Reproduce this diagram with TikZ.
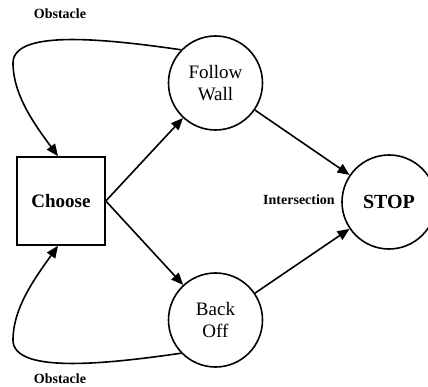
\documentclass[tikz,border=0pt]{standalone}
\usepackage{fontspec}
\setmainfont{Liberation Serif}
\usetikzlibrary{arrows.meta}
\begin{document}
\begin{tikzpicture}[x=1pt,y=-1pt,
  state/.style={circle,draw,line width=1.6pt,minimum size=94pt,inner sep=0pt,
    font=\fontsize{19}{22.7}\selectfont,align=center},
  chooser/.style={rectangle,draw,line width=1.6pt,minimum size=88pt,inner sep=0pt,
    font=\fontsize{19}{23}\selectfont\bfseries},
  lbl/.style={font=\fontsize{14}{16}\selectfont\bfseries,inner sep=0pt},
  edge/.style={line width=1.6pt,-{Triangle[length=12pt,width=10pt]}}]
  \useasboundingbox (0,0) rectangle (428,387);
  \clip (0,0) rectangle (428,387);
  % states
  \node[chooser] (ch) at (61,201) {Choose};
  \node[state] (fw) at (215.5,83) {Follow\\Wall};
  \node[state] (bo) at (215.5,320) {Back\\Off};
  \node[state,font=\fontsize{20}{23}\selectfont\bfseries] (st) at (389,202) {STOP};
  % labels
  \node[lbl] (ob1) at (60,14) {Obstacle};
  \node[lbl] (ob2) at (60,379) {Obstacle};
  \node[lbl] (in) at (299,200) {Intersection};
  % transitions
  \draw[edge] (ch.east) -- (fw);
  \draw[edge] (ch.east) -- (bo);
  \draw[edge] (fw) -- (st);
  \draw[edge] (bo) -- (st);
  \draw[edge] (fw.136) .. controls (100,38) and (13,30) .. (13,63)
     .. controls (13,95) and (35,125) .. ([xshift=-3pt]ch.north);
  \draw[edge] (bo.224) .. controls (100,365) and (13,373) .. (13,340)
     .. controls (13,308) and (35,278) .. ([xshift=-3pt]ch.south);
\end{tikzpicture}
\end{document}
